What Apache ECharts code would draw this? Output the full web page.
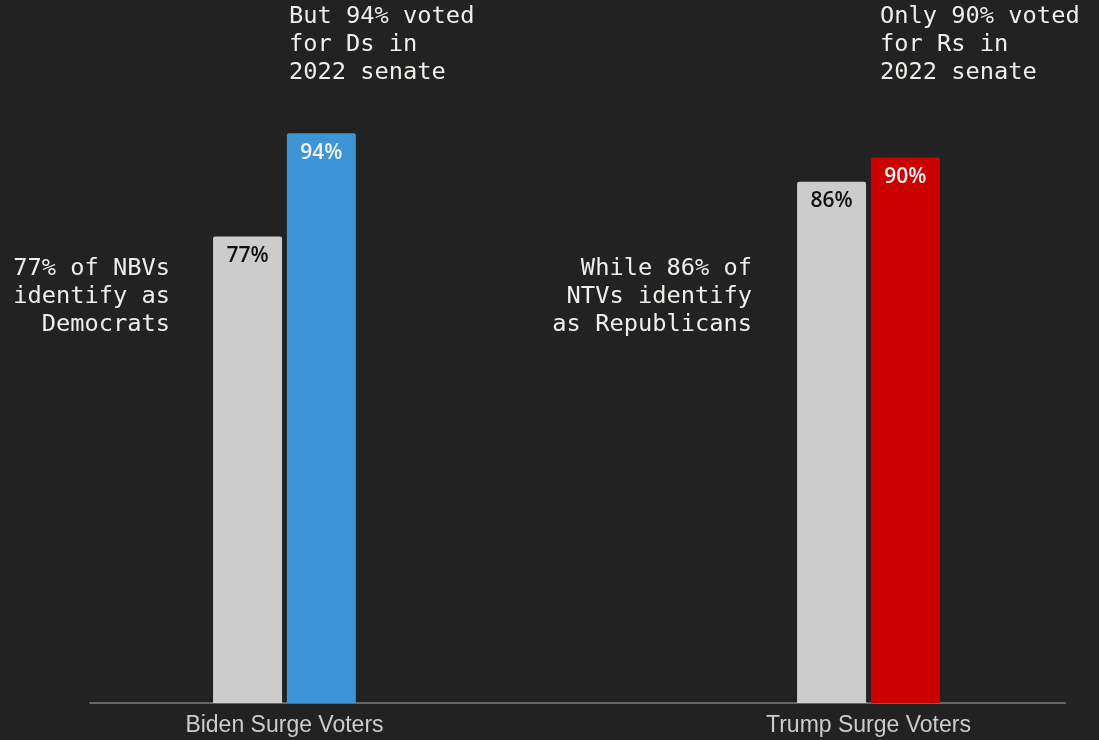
<!DOCTYPE html>
<html>
<head>
<meta charset="utf-8">
<style>
  html, body { margin: 0; padding: 0; background: #222222; }
  #chart { width: 1099px; height: 740px; }
</style>
<script src="https://cdn.jsdelivr.net/npm/echarts@6/dist/echarts.min.js"></script>
</head>
<body>
<div id="chart"></div>
<script>
// Surge voter groups and their positions along the x axis
const categories = ['Biden Surge Voters', 'Trump Surge Voters'];
const categoryPos = [0, 1];

// Share identifying with the party (%)
const identifyShares = [77, 86];
// Share voting for the party in the 2022 senate races (%)
const votedShares = [94, 90];
const voteColors = ['#3d94d6', '#cc0000'];

// Side notes
const notes = [
  { text: 'But 94% voted\nfor Ds in\n2022 senate', x: 289, y: 3, align: 'left' },
  { text: 'Only 90% voted\nfor Rs in\n2022 senate', x: 880, y: 3, align: 'left' },
  { text: '77% of NBVs\nidentify as\nDemocrats', x: 170, y: 255, align: 'right' },
  { text: 'While 86% of\nNTVs identify\nas Republicans', x: 752, y: 255, align: 'right' }
];

const chart = echarts.init(document.getElementById('chart'));

const labelBase = {
  show: true,
  position: 'insideTop',
  distance: 9,
  fontFamily: '"Open Sans", "Noto Sans", sans-serif',
  fontSize: 21,
  fontWeight: 600,
  formatter: p => p.value[1] + '%'
};

chart.setOption({
  backgroundColor: '#222222',
  animation: false,
  grid: { left: 90, right: 34, top: 97, bottom: 37 },
  xAxis: {
    type: 'value',
    min: -0.333,
    max: 1.3365,
    splitLine: { show: false },
    axisTick: { show: false },
    axisLine: { show: true, onZero: false, lineStyle: { color: '#666666', width: 2 } },
    axisLabel: {
      customValues: categoryPos,
      formatter: v => categories[Math.round(v)],
      color: '#cccccc',
      fontFamily: '"Liberation Sans", Arial, sans-serif',
      fontSize: 23,
      margin: 11
    }
  },
  yAxis: {
    type: 'value',
    min: 0,
    max: 100,
    show: false
  },
  series: [
    {
      name: 'Identify with party',
      type: 'bar',
      barWidth: 69,
      barGap: '7%',
      itemStyle: { color: '#cccccc', borderRadius: [2, 2, 0, 0] },
      label: Object.assign({}, labelBase, { color: '#111111' }),
      data: categoryPos.map((x, i) => [x, identifyShares[i]])
    },
    {
      name: 'Voted for party',
      type: 'bar',
      barWidth: 69,
      barGap: '7%',
      label: Object.assign({}, labelBase, { color: '#f2f2f2' }),
      data: categoryPos.map((x, i) => ({
        value: [x, votedShares[i]],
        itemStyle: { color: voteColors[i], borderRadius: [2, 2, 0, 0] }
      }))
    }
  ],
  graphic: notes.map(n => ({
    type: 'text',
    x: n.x,
    y: n.y,
    style: {
      text: n.text,
      fill: '#eeeeea',
      font: '23.7px "DejaVu Sans Mono", "Liberation Mono", monospace',
      lineHeight: 28,
      align: n.align,
      verticalAlign: 'top'
    }
  }))
});
</script>
</body>
</html>
